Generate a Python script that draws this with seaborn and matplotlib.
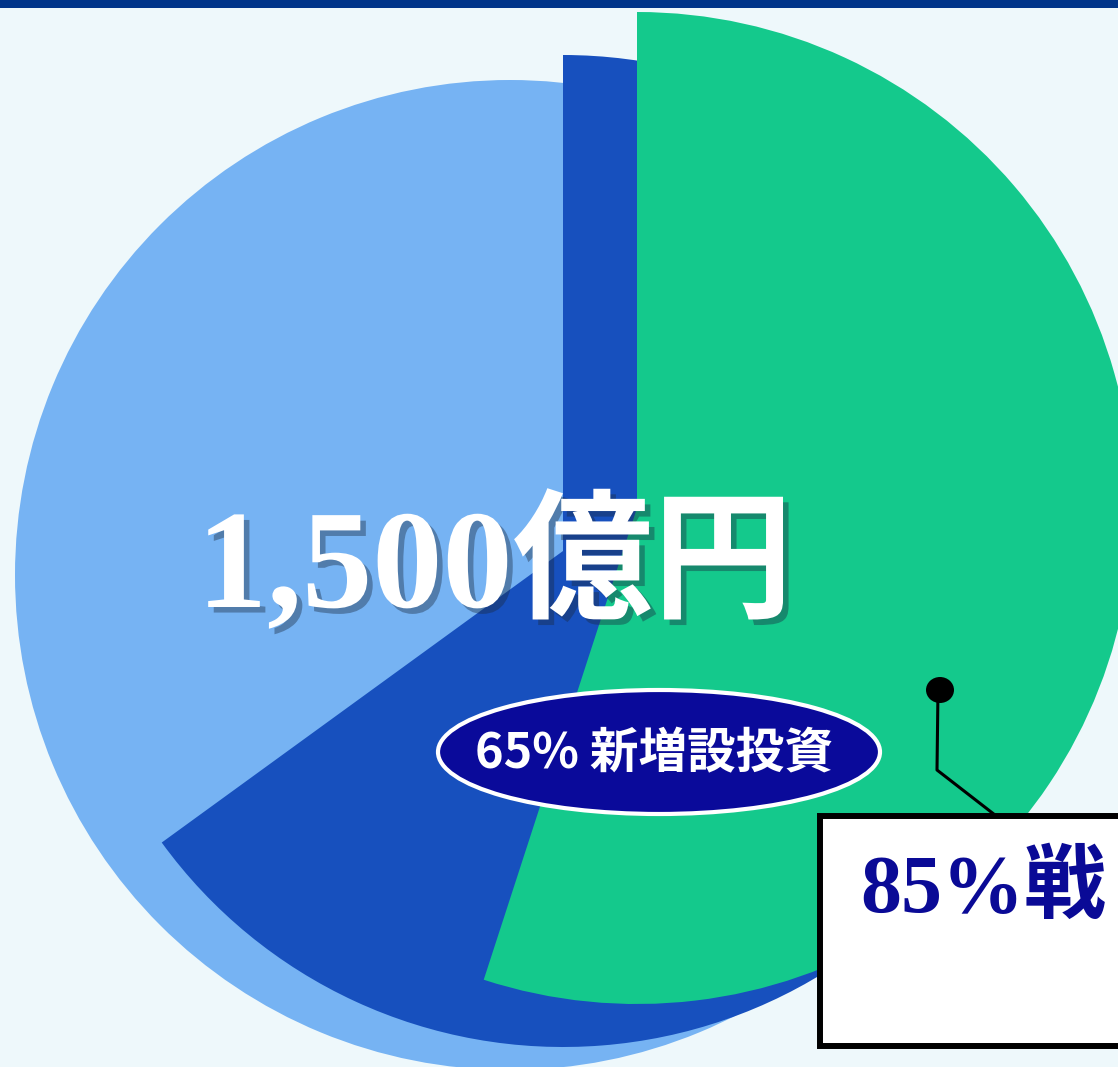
import matplotlib
matplotlib.use("Agg")
import matplotlib.pyplot as plt
import matplotlib.patheffects as pe
from matplotlib.patches import Ellipse, Rectangle
import seaborn as sns

# ---- data ----
wedge_names = ["全体", "新増設投資", "戦略投資"]
wedge_share = [100, 65, 55]          # % of the circle covered by each layer
wedge_colors = ["#76B3F3", "#1750BE", "#14C98C"]
total_label = "1,500億円"
inner_label = "65% 新増設投資"
callout_label = "85%戦"

W, H = 1118, 1067
sns.set_theme(style="white")
plt.rcParams["font.family"] = ["Liberation Serif", "Noto Sans CJK JP", "DejaVu Sans"]

fig = plt.figure(figsize=(W / 100, H / 100), dpi=100)
fig.patch.set_facecolor("#EEF8FB")
ax = fig.add_axes([0, 0, 1, 1])
ax.set_facecolor("#EEF8FB")


def py(y):
    return H - y


# layer centres / radii (pixels)
centers = [(510, 575), (563, 551), (637, 508)]
radii = [495, 496, 496]

for name, share, col, (cx, cy), r in zip(wedge_names, wedge_share, wedge_colors, centers, radii):
    vals = [share, 100 - share] if share < 100 else [share]
    cols = [col, "none"] if share < 100 else [col]
    ax.pie(vals, colors=cols, startangle=90, counterclock=False,
           center=(cx, py(cy)), radius=r, frame=True,
           wedgeprops=dict(linewidth=0, edgecolor="none"))

ax.set_xlim(0, W)
ax.set_ylim(0, H)
ax.set_aspect("equal", adjustable="box")
ax.axis("off")

# top bar
ax.add_patch(Rectangle((0, py(8)), W, 8, facecolor="#00358A", edgecolor="none", zorder=5))

# total label
ax.text(495, py(607), total_label, color="white", fontsize=101, fontweight="bold",
        ha="center", va="baseline", zorder=6,
        family=["Liberation Serif", "Noto Sans CJK JP"],
        path_effects=[pe.withSimplePatchShadow(offset=(4, -4), shadow_rgbFace="#1a2a40", alpha=0.4)])

# inner ellipse label
ax.add_patch(Ellipse((659, py(752)), 442, 124, facecolor="#0A0A9A", edgecolor="white",
                     linewidth=3, zorder=6))
ax.text(654, py(754), inner_label, color="white", fontsize=35, fontweight="bold",
        ha="center", va="center", zorder=7, family=["Noto Sans CJK JP", "DejaVu Sans"])

# callout dot and leader line
ax.add_patch(Ellipse((940, py(690)), 28, 26, facecolor="black", edgecolor="none", zorder=7))
ax.plot([938, 937, 995], [py(690), py(770), py(815)], color="black", lw=2.2, zorder=7,
        solid_capstyle="butt")

# callout box
ax.add_patch(Rectangle((820, py(1046)), 330, 1046 - 816, facecolor="white",
                       edgecolor="black", linewidth=4.3, zorder=8, clip_on=False))
ax.text(860, py(912), callout_label, color="#0A0A96", fontsize=59, fontweight="bold",
        ha="left", va="baseline", zorder=9,
        family=["Liberation Serif", "Noto Sans CJK JP"])

fig.savefig("out.png", dpi=100, facecolor=fig.get_facecolor())
